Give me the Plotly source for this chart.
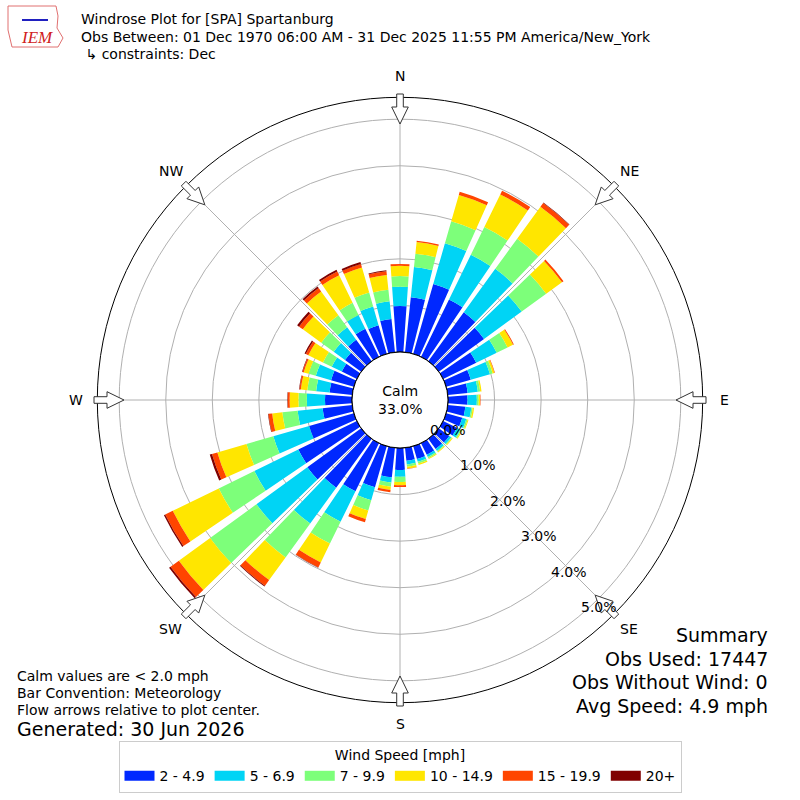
import math
import plotly.graph_objects as go

# wind direction bins (degrees, meteorological convention)
directions = list(range(0, 360, 10))

speed_bins = ["2 - 4.9", "5 - 6.9", "7 - 9.9", "10 - 14.9", "15 - 19.9", "20+"]
bin_colors = ["#0028ff", "#00d4f5", "#7dff7a", "#ffe600", "#ff4500", "#800000"]

# frequency (%) per direction for each speed bin
spd_2_5 = [0.99, 1.19, 1.56, 1.37, 1.30, 1.20, 0.79, 0.55, 0.43, 0.42, 0.38, 0.36,
           0.33, 0.28, 0.27, 0.28, 0.29, 0.28, 0.47, 0.64, 0.92, 1.15, 1.30, 1.43,
           1.40, 1.00, 0.64, 0.58, 0.49, 0.51, 0.36, 0.43, 0.57, 0.67, 0.64, 0.72]
spd_5_7 = [0.41, 0.65, 0.91, 1.07, 1.15, 1.00, 0.49, 0.43, 0.22, 0.20, 0.13, 0.09,
           0.08, 0.05, 0.05, 0.05, 0.06, 0.08, 0.15, 0.11, 0.29, 0.73, 0.95, 1.35,
           1.05, 0.80, 0.54, 0.39, 0.29, 0.34, 0.24, 0.30, 0.33, 0.33, 0.42, 0.38]
spd_7_10 = [0.23, 0.29, 0.49, 0.66, 0.80, 0.65, 0.26, 0.06, 0.05, 0.04, 0.03, 0.03,
            0.03, 0.02, 0.02, 0.03, 0.04, 0.05, 0.11, 0.09, 0.23, 0.52, 0.90, 1.23,
            0.85, 0.60, 0.33, 0.18, 0.19, 0.16, 0.21, 0.33, 0.32, 0.29, 0.31, 0.25]
spd_10_15 = [0.22, 0.25, 0.59, 0.78, 0.85, 0.42, 0.13, 0.04, 0.03, 0.03, 0.03, 0.02,
             0.02, 0.02, 0.02, 0.02, 0.03, 0.04, 0.07, 0.07, 0.19, 0.45, 0.60, 0.83,
             1.10, 0.65, 0.22, 0.19, 0.14, 0.11, 0.35, 0.49, 0.63, 0.66, 0.56, 0.32]
spd_15_20 = [0.04, 0.03, 0.07, 0.09, 0.10, 0.04, 0.02, 0.01, 0.00, 0.01, 0.00, 0.00,
             0.00, 0.00, 0.00, 0.00, 0.00, 0.01, 0.04, 0.05, 0.07, 0.12, 0.15, 0.22,
             0.18, 0.12, 0.08, 0.04, 0.03, 0.03, 0.06, 0.10, 0.09, 0.09, 0.08, 0.08]
spd_20p = [0.00, 0.00, 0.00, 0.00, 0.01, 0.00, 0.00, 0.00, 0.00, 0.00, 0.00, 0.00,
           0.00, 0.00, 0.00, 0.00, 0.00, 0.00, 0.00, 0.00, 0.00, 0.01, 0.02, 0.04,
           0.03, 0.05, 0.01, 0.01, 0.01, 0.01, 0.03, 0.05, 0.04, 0.04, 0.04, 0.02]

radial_ticks = [0, 1, 2, 3, 4, 5]
radial_labels = ["0.0%", "1.0%", "2.0%", "3.0%", "4.0%", "5.0%"]
compass_names = ["N", "NE", "E", "SE", "S", "SW", "W", "NW"]
compass_angles = [0, 45, 90, 135, 180, 225, 270, 315]

calm_pct = 33.0
title_lines = [
    "Windrose Plot for [SPA] Spartanburg",
    "Obs Between: 01 Dec 1970 06:00 AM - 31 Dec 2025 11:55 PM America/New_York",
    " \u21b3 constraints: Dec",
]
notes = ["Calm values are < 2.0 mph", "Bar Convention: Meteorology",
         "Flow arrows relative to plot center."]
summary = ["Summary", "Obs Used: 17447", "Obs Without Wind: 0", "Avg Speed: 4.9 mph"]

FONT = "DejaVu Sans"
W = H = 800
CX, CY = 400, 400
R_OUT = 302.7
R_HOLE = 48
R_MAX = 5.47


def px(x, y):
    return x / W, 1 - y / H


def note(x, y, text, size, xanchor="left", **kw):
    u, v = px(x, y)
    return dict(x=u, y=v, xref="paper", yref="paper", text=text, showarrow=False,
                xanchor=xanchor, yanchor="middle", font=dict(size=size, **kw))


fig = go.Figure()

series = [spd_2_5, spd_5_7, spd_7_10, spd_10_15, spd_15_20, spd_20p]
for name, vals, col in zip(speed_bins, series, bin_colors):
    fig.add_trace(go.Barpolar(
        r=vals, theta=directions, width=8, name=name, showlegend=False,
        marker=dict(color=col, line=dict(width=0)),
    ))
# legend swatches (wide rectangles like the original)
for name, col in zip(speed_bins, bin_colors):
    fig.add_trace(go.Scatterpolar(
        r=[None], theta=[None], mode="lines", name=name,
        line=dict(color=col, width=10), hoverinfo="skip",
    ))

# black border of the calm circle
ring_theta = list(range(0, 361, 2))
fig.add_trace(go.Scatterpolar(
    r=[0] * len(ring_theta), theta=ring_theta, mode="lines",
    line=dict(color="black", width=1), showlegend=False, hoverinfo="skip",
))

d0 = (CX - R_OUT) / W
d1 = (CX + R_OUT) / W
fig.update_layout(
    width=W, height=H,
    margin=dict(l=0, r=0, t=0, b=0, pad=0, autoexpand=False),
    paper_bgcolor="white",
    font=dict(family=FONT, size=14, color="black"),
    polar=dict(
        domain=dict(x=[d0, d1], y=[d0, d1]),
        bgcolor="white",
        hole=R_HOLE / R_OUT,
        barmode="stack",
        angularaxis=dict(
            rotation=90, direction="clockwise",
            tickmode="array", tickvals=compass_angles,
            showticklabels=False, ticks="",
            showgrid=True, gridcolor="#b0b0b0", gridwidth=1,
            showline=True, linecolor="black", linewidth=1,
            layer="above traces",
        ),
        radialaxis=dict(
            range=[0, R_MAX], angle=-45,
            tickmode="array", tickvals=radial_ticks,
            showticklabels=False,
            showgrid=True, gridcolor="#b0b0b0", gridwidth=1,
            showline=False, ticks="",
            layer="above traces",
        ),
    ),
    legend=dict(
        orientation="h", x=0.5, xanchor="center", y=1 - 741 / H, yanchor="top",
        title=dict(text="Wind Speed [mph]", side="top center", font=dict(size=14)),
        font=dict(size=14), bordercolor="#cccccc", borderwidth=1, bgcolor="white",
    ),
)

annotations = []
shapes = []

# radial tick labels, laid out the way matplotlib places them
lab_dir = math.radians(139.6)
for t, lab in zip(radial_ticks, radial_labels):
    rp = R_HOLE + (R_OUT - R_HOLE) * t / R_MAX
    annotations.append(note(CX + rp * math.sin(lab_dir) + 17,
                            CY - rp * math.cos(lab_dir) - 6.6, lab, 14,
                            xanchor="center"))

# compass labels and inward flow arrows
for name, ang in zip(compass_names, compass_angles):
    s, c = math.sin(math.radians(ang)), math.cos(math.radians(ang))
    annotations.append(note(CX + 324 * s, CY - 324 * c, name, 14, xanchor="center"))
    pts = [(276, 0), (293, 8.3), (293, 3.3), (306, 3.3), (306, -3.3),
           (293, -3.3), (293, -8.3)]
    path = []
    for i, (rr, off) in enumerate(pts):
        x = CX + rr * s + off * c
        y = CY - rr * c + off * s
        u, v = px(x, y)
        path.append(("M" if i == 0 else "L") + f"{u:.5f},{v:.5f}")
    shapes.append(dict(type="path", xref="paper", yref="paper",
                       path=" ".join(path) + " Z", fillcolor="white",
                       line=dict(color="#333333", width=1)))

annotations.append(note(CX, CY, f"Calm<br>{calm_pct:.1f}%", 14, xanchor="center"))

for i, line in enumerate(title_lines):
    annotations.append(note(79, 19 + i * 17.5, line, 14))

for i, line in enumerate(notes):
    annotations.append(note(15, 676 + i * 17, line, 14))
annotations.append(note(15, 729, "Generated: 30 Jun 2026", 19))

for i, line in enumerate(summary):
    annotations.append(note(770, 635 + i * 23.5, line, 19, xanchor="right"))

# IEM logo (rough)
annotations.append(note(37, 38, "<i>IEM</i>", 17, xanchor="center",
                        family="Liberation Serif", color="#d02020"))
logo = [(8, 6), (56, 6), (58, 16), (57, 28), (63, 38), (58, 47), (12, 47), (8, 30)]
lp = []
for i, (a, b) in enumerate(logo):
    u, v = px(a, b)
    lp.append(("M" if i == 0 else "L") + f"{u:.5f},{v:.5f}")
shapes.append(dict(type="path", xref="paper", yref="paper", path=" ".join(lp) + " Z",
                   line=dict(color="#e07070", width=1)))
x0, y0 = px(22, 20)
x1, y1 = px(48, 20)
shapes.append(dict(type="line", xref="paper", yref="paper", x0=x0, y0=y0, x1=x1,
                   y1=y1, line=dict(color="#2020c0", width=2)))

fig.update_layout(annotations=annotations, shapes=shapes)

fig.write_html("out.html", config={"displayModeBar": False},
               post_script="document.body.style.margin='0px';")
